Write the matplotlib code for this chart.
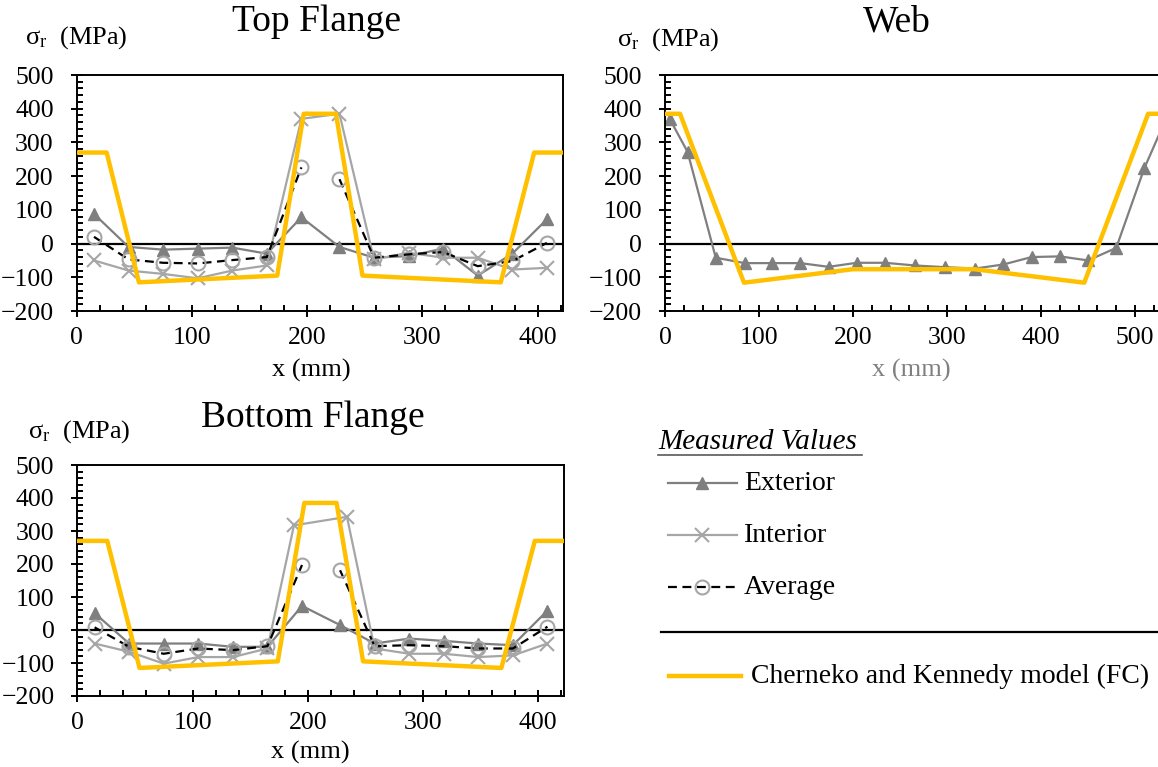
import matplotlib
matplotlib.use('Agg')
import matplotlib.pyplot as plt
from matplotlib.ticker import MultipleLocator

plt.rcParams['font.family'] = ['Liberation Serif', 'DejaVu Serif']
plt.rcParams['mathtext.fontset'] = 'custom'
plt.rcParams['mathtext.rm'] = 'Liberation Serif'
plt.rcParams['mathtext.it'] = 'Liberation Serif:italic'

# ---- data (x in mm, stress in MPa) ----
flange_x = [15, 45, 75, 105, 135, 165, 195, 228, 258, 288, 318, 348, 378, 408]
top_ext = [88, -10, -18, -15, -12, -30, 78, -10, -42, -37, -15, -95, -30, 72]
top_int = [-50, -80, -90, -103, -80, -65, 370, 385, -47, -27, -42, -42, -77, -72]
top_avg = [20, -47, -57, -59, -49, -40, 226, 191, -42, -32, -25, -67, -52, 2]

bot_int_x = [15, 45, 75, 105, 135, 165, 188, 234, 258, 288, 318, 348, 378, 408]
bot_ext = [51, -41, -41, -41, -51, -51, 73, 15, -41, -26, -33, -41, -46, 59]
bot_int = [-41, -66, -102, -82, -82, -56, 317, 343, -56, -72, -72, -82, -77, -41]
bot_avg = [8, -51, -72, -56, -61, -49, 197, 181, -49, -46, -49, -56, -56, 10]

web_x = [5, 24, 54, 85, 114, 144, 174, 204, 234, 266, 298, 330, 360, 390, 420, 450, 480, 510, 535]
web_ext = [370, 272, -42, -58, -58, -58, -69, -57, -57, -65, -70, -74, -62, -40, -38, -50, -13, 224, 383]

flange_model_x = [0, 26, 54, 174, 197, 225, 248, 368, 397, 422]
flange_model_y = [270, 270, -115, -95, 385, 385, -95, -115, 270, 270]
web_model_x = [0, 16, 84, 200, 329, 446, 514, 530]
web_model_y = [385, 385, -116, -76, -76, -116, 385, 385]

EXT_C = '#7f7f7f'
INT_C = '#a6a6a6'
MOD_C = '#ffc000'

W, H = 1158, 767
fig = plt.figure(figsize=(W / 100, H / 100), dpi=100)


def box(l, t, r, b):
    return [l / W, 1 - b / H, (r - l) / W, (b - t) / H]


def style_axes(ax, xmax):
    ax.set_xlim(0, xmax)
    ax.set_ylim(-200, 500)
    ax.xaxis.set_major_locator(MultipleLocator(100))
    ax.xaxis.set_minor_locator(MultipleLocator(20))
    ax.yaxis.set_major_locator(MultipleLocator(100))
    ax.yaxis.set_minor_locator(MultipleLocator(20))
    ax.tick_params(which='major', direction='inout', length=9, width=1.4, labelsize=18.5)
    ax.tick_params(which='minor', direction='in', length=4, width=1.4)
    ax.tick_params(axis='x', which='major', pad=7)
    ax.tick_params(axis='y', which='major', pad=12)
    for s in ax.spines.values():
        s.set_linewidth(1.4)
    ax.axhline(0, color='black', lw=1.6, zorder=1.5)


def flange(ax, ext, int_x, inter, avg):
    ax.plot(flange_x, ext, color=EXT_C, lw=1.6, marker='^', ms=9, zorder=2)
    ax.plot(int_x, inter, color=INT_C, lw=1.6, marker='x', ms=10, mew=1.5, zorder=2)
    # average is not joined across the centre
    for sl in (slice(0, 7), slice(7, None)):
        ax.plot(flange_x[sl], avg[sl], color='black', lw=1.6, ls=(0, (4, 2.5)),
                marker='o', ms=10, mfc='none', mec=INT_C, mew=1.5, zorder=3)
    ax.plot(flange_model_x, flange_model_y, color=MOD_C, lw=3.2, zorder=4)
    style_axes(ax, 422)


ax1 = fig.add_axes(box(76.7, 75, 563, 311))
flange(ax1, top_ext, flange_x, top_int, top_avg)

ax2 = fig.add_axes(box(665, 75, 1163.2, 311))
ax2.plot(web_x, web_ext, color=EXT_C, lw=1.6, marker='^', ms=9, zorder=2)
ax2.plot(web_model_x, web_model_y, color=MOD_C, lw=3.2, zorder=4)
style_axes(ax2, 530)

ax3 = fig.add_axes(box(77.3, 465, 563.6, 696))
flange(ax3, bot_ext, bot_int_x, bot_int, bot_avg)


def ftext(x, y, s, **kw):
    fig.text(x / W, 1 - y / H, s, va='center', **kw)


ylab = r'σ$_\mathrm{r}$  (MPa)'
ftext(76, 38, ylab, ha='center', fontsize=19)
ftext(668, 40, ylab, ha='center', fontsize=19)
ftext(79, 432, ylab, ha='center', fontsize=19)

ftext(316, 22, 'Top Flange', ha='center', fontsize=27)
ftext(897, 22, 'Web', ha='center', fontsize=27)
ftext(313, 418, 'Bottom Flange', ha='center', fontsize=27)

ftext(311, 370, 'x (mm)', ha='center', fontsize=19)
ftext(911, 370, 'x (mm)', ha='center', fontsize=19, color='#808080')
ftext(310, 752, 'x (mm)', ha='center', fontsize=19)

# ---- legend drawn in pixel space ----
lg = fig.add_axes([0, 0, 1, 1])
lg.set_xlim(0, W)
lg.set_ylim(H, 0)
lg.axis('off')

lg.text(658, 442, 'Measured Values', style='italic', fontsize=21, va='center', ha='left')
lg.plot([658, 862], [455, 455], color='#595959', lw=1.2)

lg.plot([668, 737], [483, 483], color=EXT_C, lw=1.6)
lg.plot([702], [483], color=EXT_C, marker='^', ms=9)
lg.text(744, 483, 'Exterior', fontsize=20, va='center')

lg.plot([668, 737], [535, 535], color=INT_C, lw=1.6)
lg.plot([702], [535], color=INT_C, marker='x', ms=10, mew=1.5)
lg.text(744, 535, 'Interior', fontsize=20, va='center')

lg.plot([668, 737], [587, 587], color='black', lw=1.6, ls=(0, (4, 2.5)))
lg.plot([702], [587], marker='o', ms=10, mfc='none', mec=INT_C, mew=1.5)
lg.text(744, 587, 'Average', fontsize=20, va='center')

lg.plot([661, W], [632, 632], color='black', lw=1.6)

lg.plot([669, 741], [676, 676], color=MOD_C, lw=3.2)
lg.text(751, 676, 'Cherneko and Kennedy model (FC)', fontsize=20, va='center')

fig.savefig('out.png', dpi=100)
